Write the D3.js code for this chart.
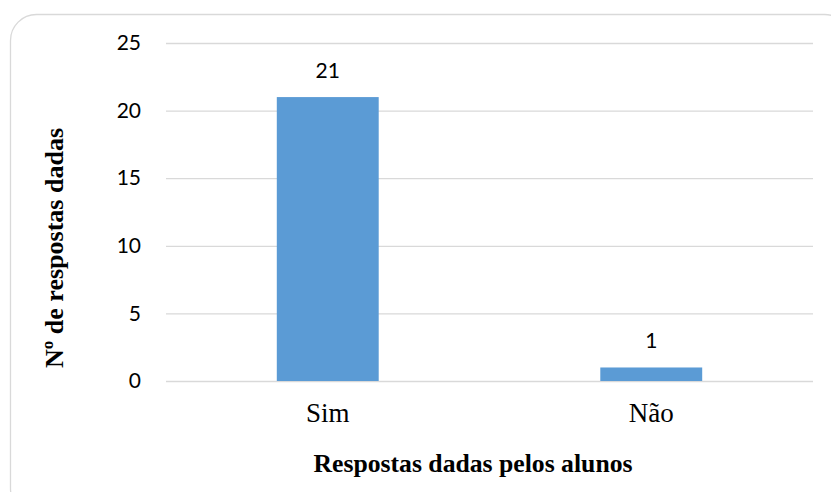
<!DOCTYPE html>
<html>
<head>
<meta charset="utf-8">
<script src="https://cdn.jsdelivr.net/npm/d3@7"></script>
<style>
  html, body { margin: 0; padding: 0; background: #fff; }
  svg { display: block; }
</style>
</head>
<body>
<svg id="chart" width="831" height="492"></svg>
<script>
// Respostas por categoria
const categories = ["Sim", "Não"];
const values = [21, 1];
const yTicks = [0, 5, 10, 15, 20, 25];

const W = 831, H = 492;
const margin = { left: 166, right: 18, top: 43, bottom: 111 };

const svg = d3.select("#chart");

// outer rounded frame
svg.append("rect")
  .attr("x", 10.5).attr("y", 14.5)
  .attr("width", 840).attr("height", 500)
  .attr("rx", 26).attr("ry", 26)
  .attr("fill", "#fff")
  .attr("stroke", "#d9d9d9")
  .attr("stroke-width", 1.3);

const x = d3.scaleBand()
  .domain(categories)
  .range([margin.left, W - margin.right])
  .paddingInner(0.685)
  .paddingOuter(0.3425);

const y = d3.scaleLinear()
  .domain([0, 25])
  .range([H - margin.bottom, margin.top]);

// horizontal gridlines
const yAxis = d3.axisLeft(y)
  .tickValues(yTicks)
  .tickSize(-(W - margin.left - margin.right))
  .tickPadding(25)
  .tickFormat(d3.format("d"));

const gy = svg.append("g")
  .attr("transform", `translate(${margin.left},0)`)
  .call(yAxis);
gy.select(".domain").remove();
gy.selectAll(".tick line").attr("stroke", "#d9d9d9").attr("stroke-width", 1.3);
gy.selectAll(".tick text")
  .attr("fill", "#000")
  .style("font-family", "Lato, 'Open Sans', sans-serif")
  .style("font-size", "21px");

// bars
svg.append("g").selectAll("rect")
  .data(values)
  .join("rect")
  .attr("x", (d, i) => x(categories[i]))
  .attr("width", x.bandwidth())
  .attr("y", d => y(d))
  .attr("height", d => y(0) - y(d))
  .attr("fill", "#5b9bd5");

// value labels
svg.append("g").selectAll("text")
  .data(values)
  .join("text")
  .attr("x", (d, i) => x(categories[i]) + x.bandwidth() / 2)
  .attr("y", d => y(d) - 19)
  .attr("text-anchor", "middle")
  .style("font-family", "Lato, 'Open Sans', sans-serif")
  .style("font-size", "21px")
  .attr("fill", "#000")
  .text(d => d);

// category axis
const xAxis = d3.axisBottom(x).tickSize(0);
const gx = svg.append("g")
  .attr("transform", `translate(0,${y(0)})`)
  .call(xAxis);
gx.select(".domain").remove();
gx.selectAll(".tick text")
  .attr("y", 41)
  .attr("dy", null)
  .attr("fill", "#000")
  .style("font-family", "'Liberation Serif', 'Times New Roman', serif")
  .style("font-size", "27px");

// axis titles
svg.append("text")
  .attr("x", 473).attr("y", 472)
  .attr("text-anchor", "middle")
  .style("font-family", "'Liberation Serif', 'Times New Roman', serif")
  .style("font-size", "25.7px")
  .style("font-weight", "bold")
  .text("Respostas dadas pelos alunos");

svg.append("text")
  .attr("transform", "translate(63,248) rotate(-90)")
  .attr("text-anchor", "middle")
  .style("font-family", "'Liberation Serif', 'Times New Roman', serif")
  .style("font-size", "26px")
  .style("font-weight", "bold")
  .text("Nº de respostas dadas");
</script>
</body>
</html>
